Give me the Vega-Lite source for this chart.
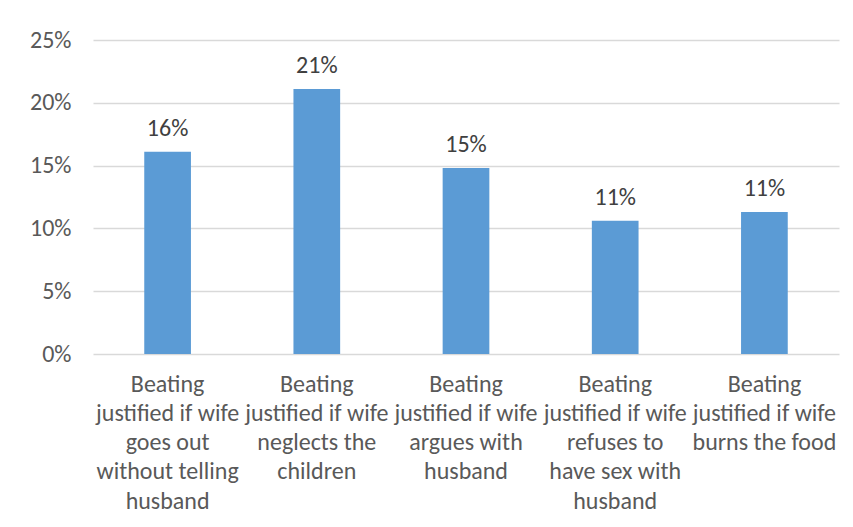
{
  "$schema": "https://vega.github.io/schema/vega-lite/v6.json",
  "width": 746,
  "height": 314,
  "autosize": "none",
  "padding": {"left": 93, "top": 40, "right": 14, "bottom": 173},
  "background": "#ffffff",
  "data": {"values": [
    {"category": "Beating|justified if wife|goes out|without telling|husband", "value": 0.161},
    {"category": "Beating|justified if wife|neglects the|children", "value": 0.211},
    {"category": "Beating|justified if wife|argues with|husband", "value": 0.148},
    {"category": "Beating|justified if wife|refuses to|have sex with|husband", "value": 0.106},
    {"category": "Beating|justified if wife|burns the food", "value": 0.113}
  ]},
  "encoding": {
    "x": {"field": "category", "type": "nominal", "sort": null,
      "scale": {"paddingInner": 0.687, "paddingOuter": 0.3435},
      "axis": {"title": null, "labelAngle": 0, "ticks": false, "domain": false,
        "labelExpr": "split(datum.label, '|')", "labelLineHeight": 29.3,
        "labelPadding": 18, "labelBaseline": "top", "labelLimit": 200}},
    "y": {"field": "value", "type": "quantitative",
      "scale": {"domain": [0, 0.25]},
      "axis": {"title": null, "format": ".0%", "values": [0, 0.05, 0.1, 0.15, 0.2, 0.25],
        "ticks": false, "domain": false, "labelPadding": 22, "gridColor": "#d9d9d9", "gridWidth": 1.3}}
  },
  "layer": [
    {"mark": {"type": "bar", "color": "#5b9bd5"}},
    {"mark": {"type": "text", "dy": -16, "baseline": "alphabetic", "fontSize": 24, "color": "#404040", "font": "Carlito, Liberation Sans"},
     "encoding": {"text": {"field": "value", "format": ".0%"}}}
  ],
  "config": {
    "view": {"stroke": null},
    "axis": {"labelFont": "Carlito, Liberation Sans", "labelFontSize": 24, "labelColor": "#595959"}
  }
}
